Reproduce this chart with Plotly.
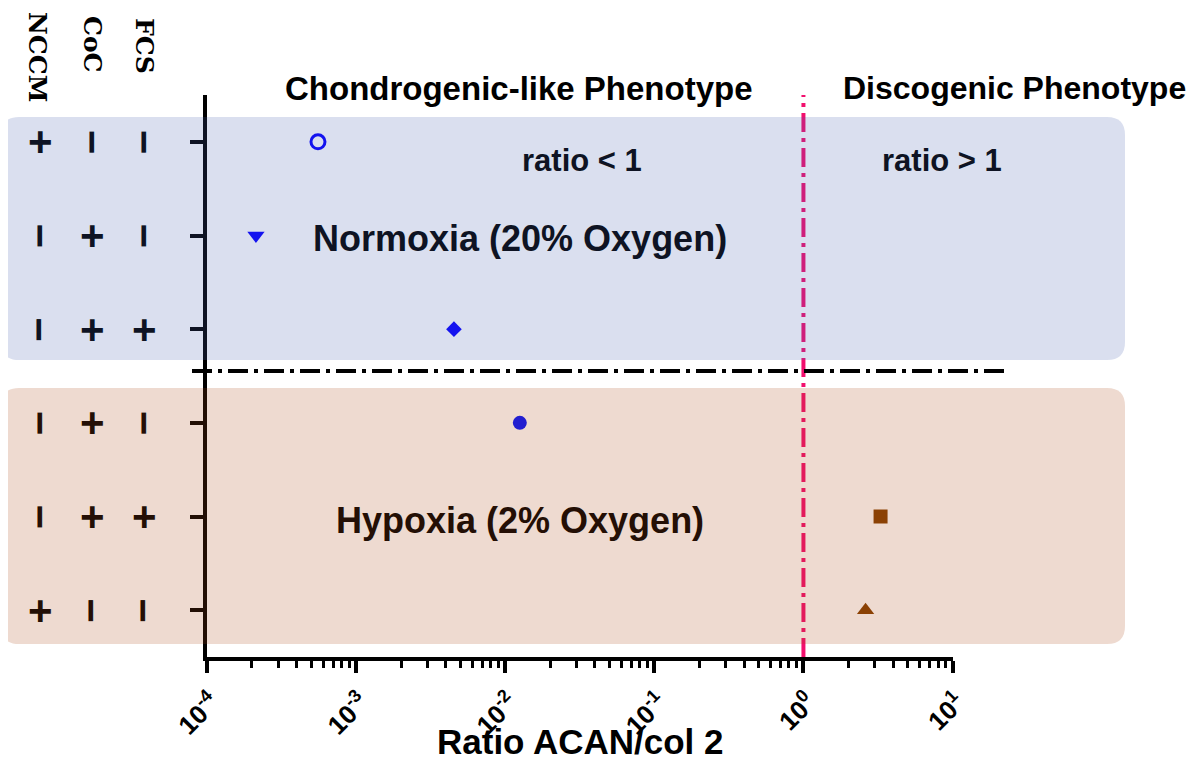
import plotly.graph_objects as go

# ---- data (rows listed top to bottom) ----
row_pos = [6, 5, 4, 3, 2, 1]
ratio = [5.55e-4, 2.13e-4, 4.53e-3, 1.253e-2, 3.29, 2.61]
symbols = ["circle-open", "triangle-down", "diamond", "circle", "square", "triangle-up"]
colors = ["#0801ff", "#0801ff", "#0801ff", "#0014ff", "#844001", "#844001"]
sizes = [14, 15, 12, 14, 14, 15]
nccm = ["+", "−", "−", "−", "−", "+"]
coc = ["−", "+", "+", "+", "+", "−"]
fcs = ["−", "−", "+", "−", "+", "−"]
col_headers = ["NCCM", "CoC", "FCS"]
tick_vals = [1e-4, 1e-3, 1e-2, 1e-1, 1e0, 1e1]
tick_text = ["10<sup>-4</sup>", "10<sup>-3</sup>", "10<sup>-2</sup>",
             "10<sup>-1</sup>", "10<sup>0</sup>", "10<sup>1</sup>"]
threshold = 1.0

FONT = "Liberation Sans"
fig = go.Figure()

# threshold line ratio = 1
fig.add_trace(go.Scatter(x=[threshold, threshold], y=[0.5, 6.5], mode="lines",
                         line=dict(color="#f2106e", width=4, dash="19px,6px,4px,6px"),
                         hoverinfo="skip", showlegend=False, cliponaxis=False))

for i in range(len(ratio)):
    open_ = symbols[i].endswith("open")
    fig.add_trace(go.Scatter(
        x=[ratio[i]], y=[row_pos[i]], mode="markers", showlegend=False,
        marker=dict(symbol=symbols[i], size=sizes[i], color=colors[i],
                    line=dict(width=3 if open_ else 0, color=colors[i]))))

# page-pixel -> paper helpers (plot area spans x 207..953, y 95..657 on the page)
px = lambda p: (p - 207) / 746
py = lambda p: (657 - p) / 562


def rrect(x0, y0, x1, y1, r=18):
    X0, X1, Y0, Y1 = px(x0), px(x1), py(y1), py(y0)  # Y0 bottom, Y1 top
    rx, ry = r / 746, r / 562
    return (f"M {X0+rx},{Y1} L {X1-rx},{Y1} Q {X1},{Y1} {X1},{Y1-ry} "
            f"L {X1},{Y0+ry} Q {X1},{Y0} {X1-rx},{Y0} L {X0+rx},{Y0} "
            f"Q {X0},{Y0} {X0},{Y0+ry} L {X0},{Y1-ry} Q {X0},{Y1} {X0+rx},{Y1} Z")

shapes = [
    dict(type="path", xref="paper", yref="paper", layer="above",
         path=rrect(1, 117, 1125, 360),
         fillcolor="rgba(70,95,175,0.2)", line=dict(width=0)),
    dict(type="path", xref="paper", yref="paper", layer="above",
         path=rrect(1, 388, 1125, 644),
         fillcolor="rgba(170,70,20,0.2)", line=dict(width=0)),
    dict(type="line", xref="paper", yref="paper", x0=px(192), x1=px(1005), y0=py(371), y1=py(371),
         line=dict(color="black", width=4, dash="20px,6px,4px,6px")),
]

ann = []
NAVY = "#0e1323"
BROWN = "#240f05"
col_x = [40, 92, 144]
for c, vals in enumerate([nccm, coc, fcs]):
    for i, v in enumerate(vals):
        colr = NAVY if row_pos[i] >= 4 else BROWN
        ann.append(dict(x=px(col_x[c]), y=row_pos[i], xref="paper", yref="y", text=v,
                        showarrow=False, textangle=90 if v == "−" else 0,
                        xanchor="center", yanchor="middle",
                        font=dict(family=FONT, size=42, color=colr, weight="bold")))

hdr_x = [37, 93, 144]
hdr_bottom = [103, 73, 75]
for c, h in enumerate(col_headers):
    ann.append(dict(x=px(hdr_x[c]), y=py(hdr_bottom[c]), xref="paper", yref="paper",
                    text=h, showarrow=False, textangle=90, xanchor="center", yanchor="bottom",
                    borderpad=0,
                    font=dict(family="DejaVu Serif", size=25, color="black", weight="bold")))


def txt(x, y, s, size, color):
    ann.append(dict(x=px(x), y=py(y), xref="paper", yref="paper", text=s, showarrow=False,
                    xanchor="center", yanchor="middle",
                    font=dict(family=FONT, size=size, color=color, weight="bold")))

txt(519, 88, "Chondrogenic-like Phenotype", 33, "black")
txt(1014, 88, "Discogenic Phenotype", 32, "black")
txt(582, 161, "ratio &lt; 1", 31, NAVY)
txt(942, 161, "ratio &gt; 1", 31, NAVY)
txt(520, 238, "Normoxia (20% Oxygen)", 36, NAVY)
txt(520, 520, "Hypoxia (2% Oxygen)", 36, BROWN)
txt(580, 741, "Ratio ACAN/col 2", 35, "black")

fig.update_layout(
    width=1192, height=753, plot_bgcolor="white", paper_bgcolor="white",
    margin=dict(l=199, r=247, t=87, b=104),
    shapes=shapes, annotations=ann, showlegend=False,
    xaxis=dict(type="log", range=[-4, 1.003], tickvals=tick_vals, ticktext=tick_text,
               showgrid=False, zeroline=False, showline=True, linewidth=4, linecolor="black",
               ticks="outside", ticklen=12, tickwidth=4, tickcolor="black", tickangle=-45,
               ticklabelstandoff=4, ticklabelshift=5,
               tickfont=dict(family=FONT, size=26, color="black", weight="bold"),
               minor=dict(ticks="outside", ticklen=7, tickwidth=3, tickcolor="black",
                          dtick="D1", showgrid=False)),
    yaxis=dict(range=[0.5, 6.5], tickvals=row_pos, showticklabels=False,
               showgrid=False, zeroline=False, showline=True, linewidth=4, linecolor="black",
               ticks="outside", ticklen=13, tickwidth=4, tickcolor="black"),
)

fig.write_html("out.html")
